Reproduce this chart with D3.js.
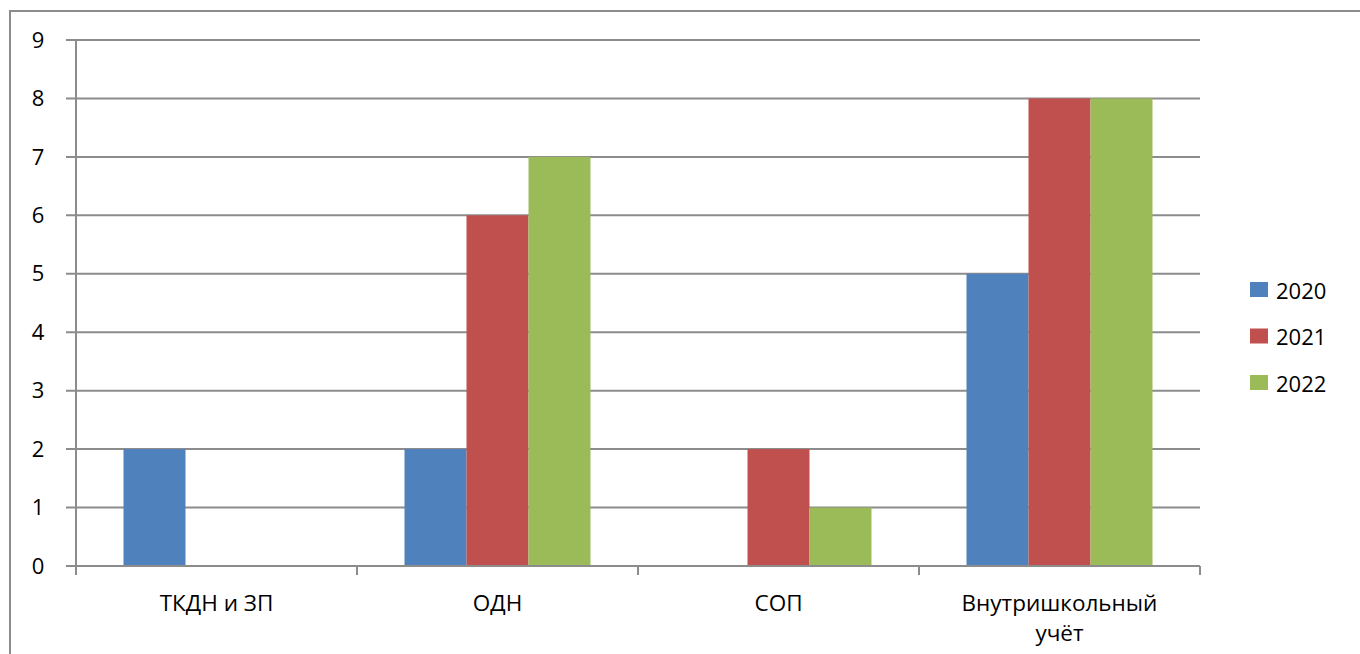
<!DOCTYPE html>
<html>
<head>
<meta charset="utf-8">
<script src="https://cdn.jsdelivr.net/npm/d3@7"></script>
<style>
  body { margin: 0; background: #fff; }
  svg { display: block; font-family: "Open Sans", "Noto Sans", sans-serif; }
</style>
</head>
<body>
<svg id="chart" width="1360" height="654"></svg>
<script>
// data
var categories = ["ТКДН и ЗП", "ОДН", "СОП", "Внутришкольный учёт"];
var years = ["2020", "2021", "2022"];
var v2020 = [2, 2, 0, 5];
var v2021 = [0, 6, 2, 8];
var v2022 = [0, 7, 1, 8];
var yTicks = [0, 1, 2, 3, 4, 5, 6, 7, 8, 9];
var colors = ["#4F81BD", "#C0504D", "#9BBB59"];

var series = [v2020, v2021, v2022];
var data = categories.map(function(c, i) {
  return { cat: c, vals: years.map(function(y, j) { return { year: y, v: series[j][i] }; }) };
});

var svg = d3.select("#chart"),
    margin = {top: 40, left: 76, right: 160, bottom: 88},
    width = 1360 - margin.left - margin.right,
    height = 654 - margin.top - margin.bottom;

// outer frame
svg.append("rect")
    .attr("x", 10).attr("y", 11)
    .attr("width", 1370).attr("height", 700)
    .attr("fill", "none")
    .attr("stroke", "#8c8c8c")
    .attr("stroke-width", 2);

var g = svg.append("g").attr("transform", "translate(" + margin.left + "," + margin.top + ")");

var x0 = d3.scaleBand().domain(categories).range([0, width]);
var x1 = d3.scaleBand().domain(years).range([0, 186]);
var y = d3.scaleLinear().domain([0, 9]).range([height, 0]);

// gridlines + y labels
g.append("g")
    .selectAll("line")
    .data(yTicks)
    .enter().append("line")
      .attr("x1", -10).attr("x2", width)
      .attr("y1", function(d) { return y(d); })
      .attr("y2", function(d) { return y(d); })
      .attr("stroke", "#8c8c8c")
      .attr("stroke-width", 2);

g.append("g")
    .selectAll("text")
    .data(yTicks)
    .enter().append("text")
      .attr("x", -38)
      .attr("y", function(d) { return y(d); })
      .attr("dy", "0.35em")
      .attr("text-anchor", "middle")
      .attr("font-size", 22)
      .attr("fill", "#000")
      .text(function(d) { return d; });

// bars
g.append("g")
    .selectAll("g")
    .data(data)
    .enter().append("g")
      .attr("transform", function(d) { return "translate(" + (x0(d.cat) + (x0.bandwidth() - 186) / 2) + ",0)"; })
    .selectAll("rect")
    .data(function(d) { return d.vals.filter(function(e) { return e.v > 0; }); })
    .enter().append("rect")
      .attr("x", function(d) { return x1(d.year); })
      .attr("y", function(d) { return y(d.v); })
      .attr("width", x1.bandwidth())
      .attr("height", function(d) { return height - y(d.v); })
      .attr("fill", function(d) { return colors[years.indexOf(d.year)]; });

// y axis line
g.append("line")
    .attr("x1", 0).attr("x2", 0)
    .attr("y1", 0).attr("y2", height)
    .attr("stroke", "#8c8c8c").attr("stroke-width", 2);

// x axis with ticks between categories
g.append("line")
    .attr("x1", -10).attr("x2", width)
    .attr("y1", height).attr("y2", height)
    .attr("stroke", "#8c8c8c").attr("stroke-width", 2);

var edges = categories.map(function(c) { return x0(c); }).concat([width]);
g.append("g")
    .selectAll("line")
    .data(edges)
    .enter().append("line")
      .attr("x1", function(d) { return d; }).attr("x2", function(d) { return d; })
      .attr("y1", height).attr("y2", height + 9)
      .attr("stroke", "#8c8c8c").attr("stroke-width", 2);

// category labels (wrap long one)
var labels = g.append("g")
    .selectAll("text")
    .data(categories)
    .enter().append("text")
      .attr("x", function(d) { return x0(d) + x0.bandwidth() / 2; })
      .attr("y", height + 45)
      .attr("text-anchor", "middle")
      .attr("font-size", 22.5)
      .attr("fill", "#000");

labels.each(function(d) {
  var t = d3.select(this);
  var parts = d.split(" ");
  if (d.length > 15) {
    parts.forEach(function(p, i) {
      t.append("tspan")
        .attr("x", t.attr("x"))
        .attr("dy", i === 0 ? 0 : 30)
        .text(p);
    });
  } else {
    t.text(d);
  }
});

// legend
var legend = svg.append("g")
    .selectAll("g")
    .data(years)
    .enter().append("g")
      .attr("transform", function(d, i) { return "translate(1250," + (282 + i * 46.5) + ")"; });

legend.append("rect")
    .attr("width", 18)
    .attr("height", 15)
    .attr("fill", function(d, i) { return colors[i]; });

legend.append("text")
    .attr("x", 26)
    .attr("y", 9)
    .attr("dy", "0.35em")
    .attr("font-size", 22)
    .attr("fill", "#000")
    .text(function(d) { return d; });
</script>
</body>
</html>
